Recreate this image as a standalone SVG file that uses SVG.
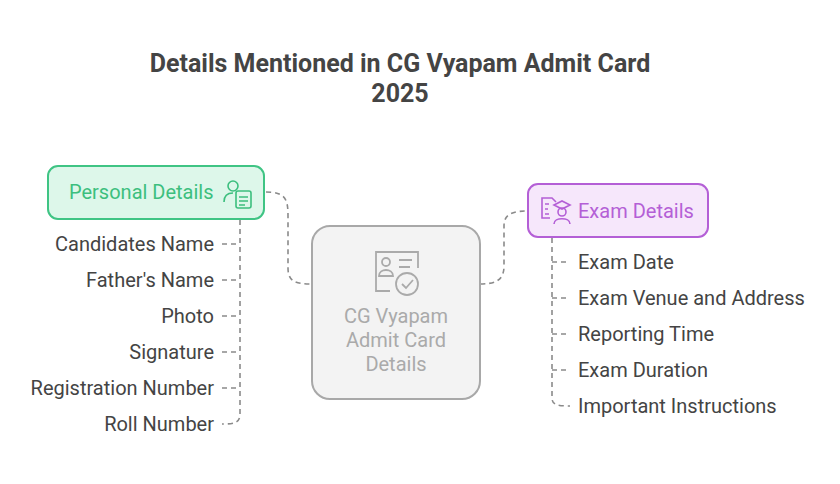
<svg xmlns="http://www.w3.org/2000/svg" width="840" height="484" viewBox="0 0 840 484">
<style>
text{font-family:Roboto,"Liberation Sans",sans-serif}
.t{font-size:25px;font-weight:bold;fill:#444;text-anchor:middle}
.it{font-size:20px;fill:#444}
.c{fill:none;stroke:#8a8a8a;stroke-width:1.6;stroke-dasharray:5 4}
</style>
<rect width="840" height="484" fill="#fff"/>
<text class="t" x="400" y="72">Details Mentioned in CG Vyapam Admit Card</text>
<text class="t" x="400" y="102">2025</text>
<g id="connectors">
<path class="c" d="M266 192 C286 192 288 200 288 216 L288 268 C288 282 296 284 312 284"/>
<path class="c" d="M480 284 C496 284 504 280 504 266 L504 226 C504 214 512 211 528 211"/>
<path class="c" d="M240 220 L240 414 C240 422 236 424 222 424"/>
<path class="c" d="M222 244 H240 M222 280 H240 M222 316 H240 M222 352 H240 M222 388 H240"/>
<path class="c" d="M552 238 L552 398 C552 404 556 406 570 406"/>
<path class="c" d="M552 262 H570 M552 298 H570 M552 334 H570 M552 370 H570"/>
</g>
<g id="center">
<rect x="312" y="226" width="168" height="173" rx="18" fill="#f3f3f3" stroke="#a8a8a8" stroke-width="2"/>
<g fill="none" stroke="#aaa" stroke-width="1.8">
<path d="M390 291 H376 V252 H418 V268"/>
<circle cx="386" cy="262" r="4"/><path d="M379 276 C379 268 393 268 393 276 Z"/>
<path d="M399 260 H412 M399 267 H410"/>
<circle cx="407" cy="284" r="11"/><path d="M402 284 L406 288 L413 280"/>
</g>
<text x="396" y="323" font-size="20" fill="#aaa" text-anchor="middle">CG Vyapam</text>
<text x="396" y="347" font-size="20" fill="#aaa" text-anchor="middle">Admit Card</text>
<text x="396" y="371" font-size="20" fill="#aaa" text-anchor="middle">Details</text>
</g>
<g id="personal">
<rect x="48" y="166" width="216" height="53" rx="10" fill="#ddf7ea" stroke="#3fc484" stroke-width="2"/>
<text x="69" y="199" font-size="20" fill="#3cbf7e">Personal Details</text>
<g fill="none" stroke="#3cbf7e" stroke-width="1.6">
<circle cx="233" cy="186" r="5"/><path d="M224 202 C224 194 230 193 233 193"/>
<rect x="236" y="191" width="15" height="17" rx="2"/><path d="M239 197 H248 M239 201 H248 M239 205 H245"/>
</g>
</g>
<g id="personal-items" class="it">
<text x="214" y="251" text-anchor="end">Candidates Name</text>
<text x="214" y="287" text-anchor="end">Father's Name</text>
<text x="214" y="323" text-anchor="end">Photo</text>
<text x="214" y="359" text-anchor="end">Signature</text>
<text x="214" y="395" text-anchor="end">Registration Number</text>
<text x="214" y="431" text-anchor="end">Roll Number</text>
</g>
<g id="exam">
<rect x="528" y="184" width="180" height="53" rx="10" fill="#f6e7fb" stroke="#b45fd6" stroke-width="2"/>
<text x="578" y="218" font-size="20" fill="#b45fd6">Exam Details</text>
<g fill="none" stroke="#b45fd6" stroke-width="1.6">
<path d="M550 218 H542 V198 H552 L556 202"/><path d="M545 204 H549 M545 209 H548 M545 214 H549"/>
<path d="M554 205 L562 201 L570 205 L562 209 Z"/><circle cx="562" cy="212" r="4"/><path d="M554 224 C554 217 570 217 570 224"/>
</g>
</g>
<g id="exam-items" class="it">
<text x="578" y="269">Exam Date</text>
<text x="578" y="305">Exam Venue and Address</text>
<text x="578" y="341">Reporting Time</text>
<text x="578" y="377">Exam Duration</text>
<text x="578" y="413">Important Instructions</text>
</g>
</svg>
